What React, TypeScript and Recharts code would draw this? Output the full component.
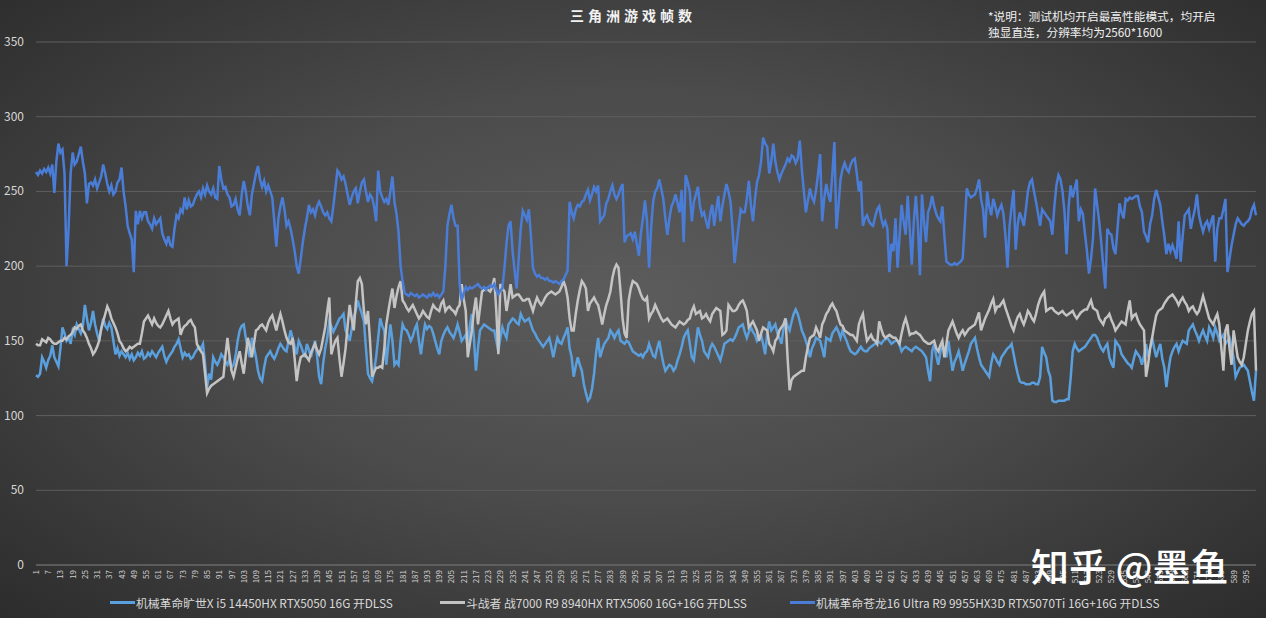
import React from "react";
import { LineChart, Line, XAxis, YAxis, CartesianGrid } from "recharts";

const FONT = "'Noto Sans CJK SC', 'Noto Sans', sans-serif";

const title = "三角洲游戏帧数";
const noteLines = ["*说明：测试机均开启最高性能模式，均开启", "独显直连，分辨率均为2560*1600"];
const watermark = "知乎 @墨鱼";

const seriesNames = [
  "机械革命旷世X i5 14450HX RTX5050 16G 开DLSS",
  "斗战者 战7000 R9 8940HX RTX5060 16G+16G 开DLSS",
  "机械革命苍龙16 Ultra R9 9955HX3D RTX5070Ti 16G+16G 开DLSS",
];
const seriesColors = ["#5ba0de", "#c4c4c4", "#4a7dd8"];

const yTicks = [0, 50, 100, 150, 200, 250, 300, 350];

// 旷世X
const kuangshi = [
  127,126,128,139,136,132,137,140,147,139,136,133,145,159,155,150,152,148,157,154,
  161,158,155,160,174,165,157,162,170,161,155,150,158,165,160,158,162,159,150,141,
  145,140,143,141,139,142,138,141,137,139,142,140,143,138,139,142,140,143,141,139,
  142,144,146,140,136,139,141,143,146,148,151,145,139,142,140,141,138,139,142,144,
  146,145,148,135,119,128,124,139,136,134,137,141,139,136,134,138,132,134,140,150,
  157,160,161,152,145,139,152,146,139,130,125,123,132,139,141,143,140,138,141,145,
  148,146,144,143,150,157,152,146,141,150,147,143,139,148,144,139,145,150,140,126,
  121,135,145,152,163,160,156,159,162,165,166,168,157,154,150,158,166,170,177,172,
  168,163,145,128,125,123,130,139,152,165,160,157,134,148,161,150,134,136,134,150,
  161,158,157,154,150,153,158,161,150,141,152,161,158,160,159,155,150,145,141,150,
  154,157,159,156,154,152,156,161,156,150,152,154,146,160,168,152,130,145,157,159,
  161,160,159,158,157,157,150,143,152,159,155,152,161,163,165,164,162,161,168,165,
  163,164,165,161,157,155,152,150,148,146,148,150,152,146,139,146,152,149,148,152,
  155,159,145,139,126,133,139,134,130,121,115,110,112,118,128,142,152,139,144,148,
  150,152,157,155,152,155,157,150,149,148,150,149,146,143,142,141,140,141,139,142,
  143,148,144,140,139,145,150,142,135,130,132,134,133,130,132,137,141,146,152,155,
  157,148,139,137,148,159,154,150,143,141,139,145,148,146,143,140,137,142,148,149,
  150,151,150,152,155,159,160,161,156,152,156,159,156,154,150,152,154,148,141,155,
  163,157,159,161,155,152,148,158,165,160,157,163,168,171,168,163,157,154,150,145,
  139,145,148,152,151,150,145,139,152,151,150,155,157,159,156,152,157,153,150,146,
  143,142,141,142,144,146,144,143,143,145,146,147,148,150,149,148,150,151,152,150,
  148,149,150,150,147,143,145,146,145,144,143,145,146,145,144,143,141,139,130,123,
  143,148,140,134,142,148,143,139,150,140,130,136,139,143,137,130,135,139,143,148,
  150,152,145,139,134,132,130,128,126,135,141,139,136,134,139,141,143,145,146,148,
  141,134,128,123,122,122,121,121,121,122,122,121,121,126,146,142,139,130,126,110,
  109,109,110,110,110,110,111,111,125,143,148,145,143,144,145,146,148,150,152,154,
  154,152,148,145,143,146,148,139,135,132,150,148,146,141,139,137,135,134,132,138,
  143,141,139,134,140,148,139,145,152,145,139,144,148,138,132,119,130,139,143,146,
  148,143,147,150,149,148,157,159,161,157,154,150,154,157,153,150,159,156,152,159,
  155,150,152,154,148,150,152,145,139,126,129,132,133,134,132,130,123,116,110,130,
];

// 战7000
const zhan7000 = [
  148,147,147,151,150,149,152,151,149,148,148,149,150,150,152,151,153,154,156,159,
  158,160,161,157,155,152,148,145,141,143,146,150,158,163,168,173,170,165,162,159,
  155,150,148,145,143,144,146,145,146,147,148,148,155,163,165,167,164,161,165,162,
  160,159,161,164,167,170,165,161,163,164,165,154,158,160,161,163,164,161,159,148,
  145,143,141,128,115,118,120,121,122,123,124,125,126,140,152,140,130,126,132,138,
  143,135,128,140,152,146,139,148,157,158,160,161,159,157,162,165,167,162,157,163,
  168,163,157,152,149,148,152,138,123,133,139,140,141,139,137,142,145,148,144,141,
  145,152,159,170,179,141,146,150,152,138,126,135,145,160,174,165,157,175,190,192,
  188,170,161,170,150,126,129,132,132,133,132,145,161,170,178,185,172,180,186,190,
  177,175,172,170,172,174,171,168,165,167,170,168,166,165,170,174,172,171,170,175,
  177,170,172,173,171,170,168,172,174,188,178,170,139,148,157,170,179,161,172,183,
  184,185,184,183,186,192,170,141,188,185,183,170,178,188,179,180,181,181,179,177,
  177,178,178,174,170,175,179,176,174,176,179,181,182,183,182,181,182,183,186,190,
  186,179,165,157,157,168,177,184,190,188,185,170,175,177,179,176,174,168,161,168,
  174,178,183,192,198,201,199,183,165,155,152,177,185,190,189,188,185,181,178,177,
  179,165,168,170,174,171,168,165,163,164,165,163,161,160,159,161,163,162,161,162,
  164,165,170,173,168,169,170,165,166,168,165,163,168,170,172,171,170,154,155,157,
  174,172,170,170,171,174,176,177,174,170,159,161,163,160,157,150,155,159,158,157,
  148,146,143,150,152,157,159,161,165,139,117,124,126,127,128,129,130,130,139,146,
  152,153,154,159,156,152,161,164,168,170,173,175,172,170,165,161,160,157,156,155,
  154,154,152,150,161,165,168,158,150,152,154,151,150,148,163,158,154,152,153,154,
  153,152,152,150,148,155,161,165,160,154,155,155,156,155,154,152,150,149,148,148,
  149,150,145,143,147,150,139,148,157,160,163,159,155,152,155,157,154,156,158,159,
  160,161,165,169,157,161,165,168,171,175,178,170,173,173,175,177,172,168,164,160,
  157,162,166,168,164,161,165,170,168,165,163,168,174,178,181,183,170,171,172,172,
  170,169,168,169,170,168,167,168,169,170,167,165,167,169,170,171,171,174,177,172,
  171,170,165,163,161,165,166,168,164,161,157,159,161,163,162,161,170,177,165,167,
  168,164,161,159,157,126,134,145,152,160,167,170,171,172,175,177,179,180,181,179,
  177,174,177,179,176,174,170,172,173,170,168,170,175,180,175,170,165,163,161,165,
  168,161,145,130,157,161,145,134,157,148,139,136,134,139,148,157,163,168,170,130,
];

// 苍龙16 Ultra
const canglong = [
  263,261,264,262,265,263,266,262,268,249,270,282,276,278,262,200,225,262,276,268,
  270,275,280,270,262,242,255,256,254,258,252,256,260,268,262,255,250,254,248,250,
  256,258,266,250,240,227,222,218,196,237,228,237,232,236,236,230,228,225,232,228,
  230,232,222,218,215,220,214,213,225,234,232,238,236,246,238,244,240,241,245,248,
  250,246,252,248,254,250,248,252,246,245,267,258,252,253,248,246,240,241,245,238,
  234,248,257,250,240,234,248,255,262,267,258,253,257,250,254,250,246,230,213,232,
  240,246,238,227,230,225,218,210,200,195,205,216,225,232,241,236,238,234,240,243,
  240,236,234,236,232,230,240,252,264,262,258,260,255,248,241,246,250,252,242,250,
  256,258,250,243,248,246,240,230,264,250,246,243,245,241,250,260,243,235,223,200,
  190,182,181,180,182,181,180,181,179,180,181,180,179,181,180,182,180,181,179,181,
  183,200,227,235,241,232,227,227,188,177,182,186,184,186,185,186,187,188,186,185,
  186,184,186,187,186,188,184,181,184,185,199,215,227,230,210,197,185,205,225,237,
  234,231,238,220,199,195,193,194,192,192,191,192,190,190,189,190,189,188,190,191,
  194,197,243,236,232,238,241,240,243,244,248,251,244,248,253,250,254,230,232,234,
  242,245,250,254,248,245,248,252,255,216,220,221,222,218,223,215,207,222,232,244,
  230,199,225,243,250,252,258,252,245,232,221,232,240,243,248,242,236,251,216,261,
  256,250,230,243,248,253,240,234,236,230,225,235,241,227,238,247,230,240,248,255,
  250,243,225,202,215,227,238,236,236,245,257,241,230,245,256,261,270,286,282,280,
  262,270,282,270,263,258,262,265,268,272,270,274,273,269,272,284,265,250,236,244,
  252,246,243,251,262,275,230,245,255,248,243,262,283,225,240,258,265,269,265,263,
  268,271,272,262,250,257,227,232,234,230,228,227,233,238,240,232,227,230,225,196,
  215,210,232,199,220,241,230,221,247,225,201,230,247,227,194,248,230,216,236,240,
  247,240,235,232,230,240,220,203,202,201,201,202,201,202,203,205,228,252,248,246,
  247,248,252,258,245,238,219,250,240,234,245,240,234,238,241,235,220,199,227,240,
  251,211,228,236,232,227,238,250,256,258,250,243,235,227,238,236,234,232,230,221,
  240,254,261,258,250,236,208,240,254,246,252,258,230,238,235,222,210,195,205,219,
  252,241,230,216,200,185,225,222,221,212,208,225,242,236,232,245,244,246,245,246,
  247,247,240,236,223,220,216,228,234,245,251,246,241,230,220,208,215,210,214,210,
  205,230,203,220,234,236,238,225,232,238,248,234,228,223,228,230,225,230,234,203,
  225,232,232,238,245,196,205,214,221,228,232,230,228,227,229,230,232,238,241,234,
];

// 采样序号 1..600
const samples = kuangshi.map((_, i) => String(i + 1));

const rows = samples.map((s, i) => ({
  s,
  a: kuangshi[i],
  b: zhan7000[i],
  c: canglong[i],
}));

function XTick({ x, y, payload }: any) {
  return (
    <text
      x={x}
      y={y + 3}
      dy={3}
      transform={`rotate(-90 ${x} ${y + 3})`}
      textAnchor="end"
      fill="#cfcfcf"
      fontSize={8}
      fontFamily={FONT}
    >
      {payload.value}
    </text>
  );
}

function YTick({ y, payload }: any) {
  return (
    <text x={24} y={y + 4} textAnchor="end" fill="#d6d6d6" fontSize={12} fontFamily={FONT}>
      {payload.value}
    </text>
  );
}

const legendLeft = [110, 440, 790];

export default function App() {
  return (
    <div
      style={{
        position: "absolute",
        left: 0,
        top: 0,
        width: 1266,
        height: 618,
        overflow: "hidden",
        fontFamily: FONT,
        background: "radial-gradient(ellipse 70% 75% at 50% 48%, #5c5c5c 0%, #4b4b4b 45%, #2c2c2c 100%)",
      }}
    >
      <div
        style={{
          position: "absolute",
          left: 0,
          width: 1266,
          top: 5,
          textAlign: "center",
          color: "#f2f2f2",
          fontSize: 14,
          fontWeight: 700,
          letterSpacing: 4,
        }}
      >
        {title}
      </div>
      <div
        style={{
          position: "absolute",
          left: 988,
          top: 8,
          color: "#f0f0f0",
          fontSize: 11.7,
          lineHeight: "16px",
        }}
      >
        {noteLines.map((t) => (
          <div key={t}>{t}</div>
        ))}
      </div>

      <LineChart
        width={1266}
        height={618}
        data={rows}
        margin={{ top: 42, right: 10, bottom: 23, left: 0 }}
        style={{ position: "absolute", left: 0, top: 0 }}
      >
        <CartesianGrid horizontal vertical={false} stroke="#5e5e5e" strokeWidth={1} />
        <XAxis
          dataKey="s"
          interval={5}
          height={30}
          tickLine={false}
          tickSize={0}
          axisLine={{ stroke: "#6e6e6e" }}
          tick={<XTick />}
        />
        <YAxis
          domain={[0, 350]}
          ticks={yTicks}
          width={36}
          axisLine={false}
          tickLine={false}
          tick={<YTick />}
        />
        <Line dataKey="a" stroke={seriesColors[0]} strokeWidth={2.5} dot={false} isAnimationActive={false} />
        <Line dataKey="b" stroke={seriesColors[1]} strokeWidth={2.5} dot={false} isAnimationActive={false} />
        <Line dataKey="c" stroke={seriesColors[2]} strokeWidth={2.5} dot={false} isAnimationActive={false} />
      </LineChart>

      {seriesNames.map((name, i) => (
        <div
          key={name}
          style={{
            position: "absolute",
            left: legendLeft[i],
            top: 594,
            display: "flex",
            alignItems: "center",
            color: "#d9d9d9",
            fontSize: 11.8,
            whiteSpace: "nowrap",
          }}
        >
          <span style={{ display: "inline-block", width: 25, height: 3, background: seriesColors[i], marginRight: 1 }} />
          {name}
        </div>
      ))}

      <div
        style={{
          position: "absolute",
          left: 1031,
          top: 540,
          color: "#ffffff",
          fontSize: 38,
          fontWeight: 500,
          whiteSpace: "nowrap",
          lineHeight: "50px",
        }}
      >
        {watermark}
      </div>
    </div>
  );
}
